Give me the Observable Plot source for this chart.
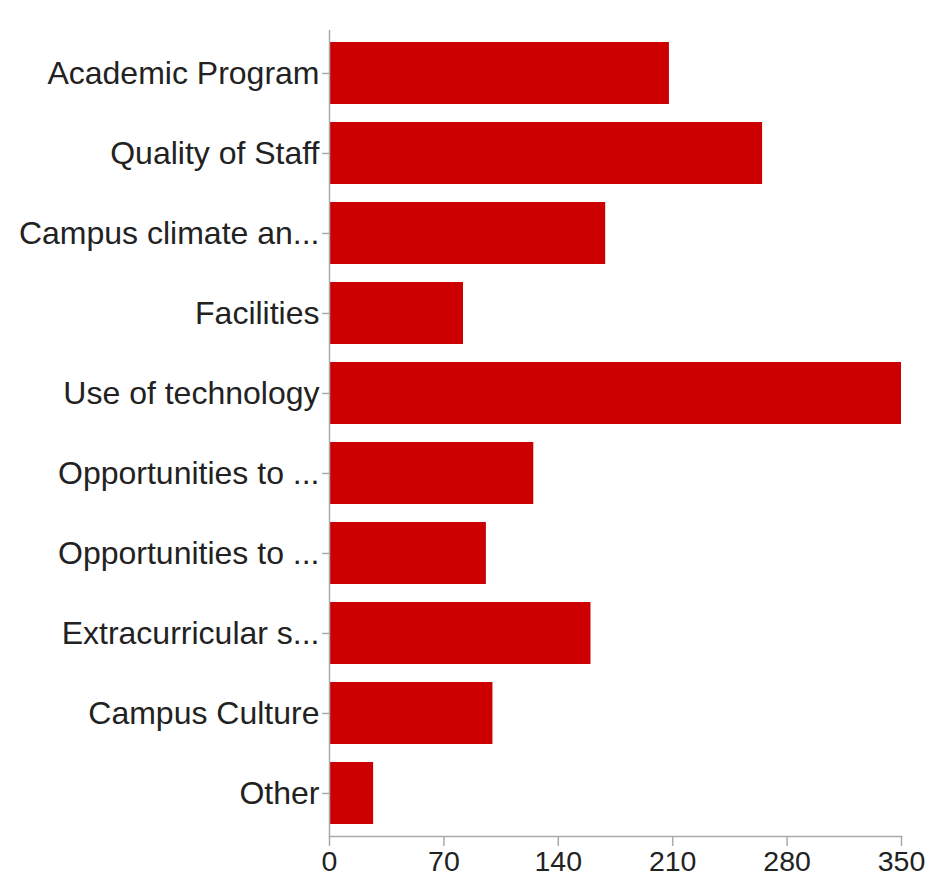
<!DOCTYPE html>
<html>
<head>
<meta charset="utf-8">
<script src="https://cdn.jsdelivr.net/npm/d3@7"></script>
<script src="https://cdn.jsdelivr.net/npm/@observablehq/plot@0.6"></script>
<style>
  html, body { margin: 0; padding: 0; background: #fff; }
  #chart svg { display: block; }
</style>
</head>
<body>
<div id="chart"></div>
<script>
const categories = [
  "Academic Program",
  "Quality of Staff",
  "Campus climate an...",
  "Facilities",
  "Use of technology",
  "Opportunities to ...",
  "Opportunities to ...",
  "Extracurricular s...",
  "Campus Culture",
  "Other"
];
const values = [208, 265, 169, 82, 350, 125, 96, 160, 100, 27];
const xTicks = [0, 70, 140, 210, 280, 350];

const data = categories.map((c, i) => ({i, label: c, value: values[i]}));
const font = "'Liberation Sans', Arial, Helvetica, sans-serif";

const chart = Plot.plot({
  width: 931,
  height: 879,
  marginLeft: 329,
  marginRight: 30,
  marginTop: 30,
  marginBottom: 43,
  style: {fontFamily: font, background: "#fff"},
  x: {domain: [0, 350]},
  y: {domain: d3.range(categories.length), paddingInner: 0.22, paddingOuter: 0.1},
  marks: [
    Plot.barX(data, {x: "value", y: "i", fill: "#cc0000", insetLeft: 1}),
    Plot.ruleX([0], {stroke: "#aaaaaa", strokeWidth: 1.5}),
    Plot.frame({anchor: "bottom", stroke: "#aaaaaa", strokeWidth: 1.5}),
    Plot.axisX({ticks: xTicks, tickSize: 10, tickPadding: 4, stroke: "#aaaaaa", strokeWidth: 1.5,
      fontSize: 28.5, fill: "#222", label: null, tickFormat: d => String(d)}),
    Plot.axisY({tickSize: 7, tickPadding: 3, stroke: "#aaaaaa", strokeWidth: 1.5,
      fontSize: 32, fill: "#222", label: null, tickFormat: i => categories[i]})
  ]
});
document.getElementById("chart").appendChild(chart);
</script>
</body>
</html>
